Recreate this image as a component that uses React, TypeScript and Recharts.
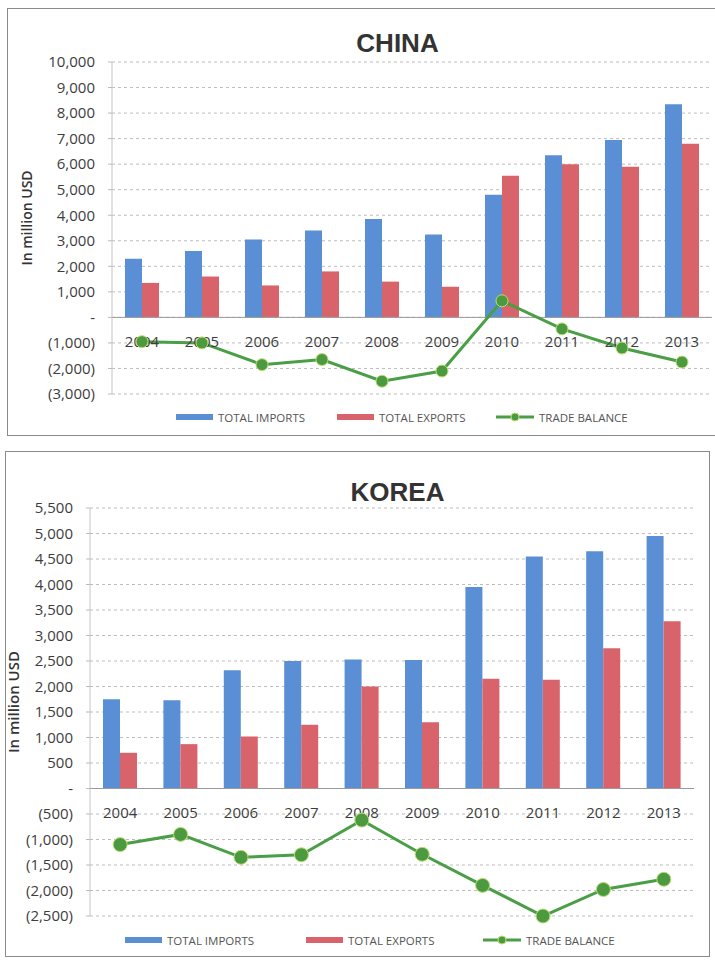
import React from 'react'
import {
  ComposedChart, Bar, Line, XAxis, YAxis, CartesianGrid, ReferenceLine, ReferenceDot
} from 'recharts'

const years = ['2004', '2005', '2006', '2007', '2008', '2009', '2010', '2011', '2012', '2013']

const chinaImports = [2300, 2600, 3050, 3400, 3850, 3250, 4800, 6350, 6950, 8350]
const chinaExports = [1350, 1600, 1250, 1800, 1400, 1200, 5550, 6000, 5900, 6800]
const chinaBalance = [-950, -1000, -1850, -1650, -2500, -2100, 650, -450, -1200, -1750]
const chinaTicks = [-3000, -2000, -1000, 0, 1000, 2000, 3000, 4000, 5000, 6000, 7000, 8000, 9000, 10000]

const koreaImports = [1750, 1730, 2320, 2500, 2530, 2520, 3950, 4550, 4650, 4950]
const koreaExports = [700, 870, 1020, 1250, 2000, 1300, 2150, 2130, 2750, 3280]
const koreaBalance = [-1100, -900, -1350, -1300, -620, -1290, -1900, -2500, -1980, -1780]
const koreaTicks = [-2500, -2000, -1500, -1000, -500, 0, 500, 1000, 1500, 2000, 2500, 3000, 3500, 4000, 4500, 5000, 5500]

const legendLabels = ['TOTAL IMPORTS', 'TOTAL EXPORTS', 'TRADE BALANCE']

const BLUE = '#5b8fd5'
const RED = '#d9636b'
const GREEN = '#4a9e45'

const fmt = (v: number) => {
  if (v === 0) return '-'
  const s = Math.abs(v).toLocaleString('en-US')
  return v < 0 ? `(${s})` : s
}

const tickStyle = { fontSize: 15, fill: '#3d3d3d', fontFamily: '"Open Sans", sans-serif' }

interface ChartProps {
  title: string
  imports: number[]
  exports: number[]
  balance: number[]
  ticks: number[]
  top: number
  height: number
  margin: { top: number; right: number; bottom: number; left: number }
  axisWidth: number
  dotR: number
  titleTop: number
  yLabel: { x: number; y: number; size: number }
  legendTop: number
  legendX: number[]
}

function TradeChart(p: ChartProps) {
  const data = years.map((y, i) => ({
    year: y, imports: p.imports[i], exports: p.exports[i], balance: p.balance[i],
  }))

  return (
    <div style={{ position: 'absolute', left: 0, top: p.top, width: 715, height: p.height }}>
      <div style={{
        position: 'absolute', left: 0, width: 715, top: p.titleTop, textAlign: 'center', paddingLeft: 80,
        boxSizing: 'border-box', fontFamily: '"Liberation Sans", Arial, sans-serif', fontWeight: 'bold',
        fontSize: 26, lineHeight: '26px', color: '#333',
      }}>
        {p.title}
      </div>
      <div style={{
        position: 'absolute', left: p.yLabel.x, top: p.yLabel.y, transform: 'translate(-50%, -50%) rotate(-90deg)',
        whiteSpace: 'nowrap', fontFamily: '"Open Sans", sans-serif', fontWeight: 600,
        fontSize: p.yLabel.size, color: '#333',
      }}>
        In million USD
      </div>

      <ComposedChart width={715} height={p.height} data={data} margin={p.margin} barGap={0}>
        <CartesianGrid vertical={false} stroke="#bdbdbd" strokeDasharray="3 3" />
        <XAxis dataKey="year" hide />
        <YAxis
          width={p.axisWidth}
          domain={[p.ticks[0], p.ticks[p.ticks.length - 1]]}
          ticks={p.ticks}
          interval={0}
          tickFormatter={fmt}
          tick={tickStyle}
          tickSize={4}
          tickMargin={13}
          tickLine={{ stroke: '#bbb' }}
          axisLine={{ stroke: '#c4c4c4' }}
        />
        <ReferenceLine y={0} stroke="#9a9a9a" strokeWidth={1} />
        <Bar dataKey="imports" fill={BLUE} barSize={17} isAnimationActive={false} />
        <Bar dataKey="exports" fill={RED} barSize={17} isAnimationActive={false} />
        {years.map(y => (
          <ReferenceDot
            key={y} x={y} y={0} r={0.5} fill="none" stroke="none"
            label={(lp: any) => (
              <text
                x={lp.viewBox.x + lp.viewBox.width / 2} y={lp.viewBox.y + 30}
                textAnchor="middle" fontSize={15} fill="#3d3d3d" fontFamily='"Open Sans", sans-serif'
              >
                {y}
              </text>
            )}
          />
        ))}
        <Line
          type="linear" dataKey="balance" stroke={GREEN} strokeWidth={3}
          dot={{ r: p.dotR, fill: '#4b9a40', stroke: '#bfdc73', strokeWidth: 1 }}
          activeDot={false} isAnimationActive={false}
        />
      </ComposedChart>

      {legendLabels.map((label, i) => (
        <div key={label} style={{
          position: 'absolute', left: p.legendX[i], top: p.legendTop - 8, height: 16,
          display: 'flex', alignItems: 'center', gap: 5,
          fontFamily: '"Open Sans", sans-serif', fontSize: 11.5, color: '#555',
        }}>
          {i < 2 ? (
            <div style={{ width: 37, height: 6, background: i === 0 ? BLUE : RED }} />
          ) : (
            <svg width={38} height={10}>
              <line x1={0} y1={5} x2={38} y2={5} stroke={GREEN} strokeWidth={3} />
              <circle cx={19} cy={5} r={4} fill="#4b9a40" stroke="#bfdc73" strokeWidth={1} />
            </svg>
          )}
          <span>{label}</span>
        </div>
      ))}
    </div>
  )
}

export default function App() {
  return (
    <div style={{ position: 'absolute', left: 0, top: 0, width: 715, height: 963, background: '#fff', overflow: 'hidden' }}>
      <div style={{ position: 'absolute', left: 7, top: 8, width: 720, height: 426, border: '1px solid #8a8a8a' }} />
      <div style={{ position: 'absolute', left: 5, top: 451, width: 703, height: 504, border: '1px solid #8a8a8a' }} />

      <TradeChart
        title="CHINA"
        imports={chinaImports} exports={chinaExports} balance={chinaBalance} ticks={chinaTicks}
        top={0} height={440}
        margin={{ top: 62, right: 3, bottom: 46, left: 0 }} axisWidth={112}
        dotR={6} titleTop={30}
        yLabel={{ x: 26, y: 218, size: 14 }}
        legendTop={417} legendX={[176, 337, 496]}
      />
      <TradeChart
        title="KOREA"
        imports={koreaImports} exports={koreaExports} balance={koreaBalance} ticks={koreaTicks}
        top={450} height={505}
        margin={{ top: 58, right: 21, bottom: 39, left: 0 }} axisWidth={90}
        dotR={7} titleTop={29}
        yLabel={{ x: 13, y: 252, size: 15 }}
        legendTop={490} legendX={[125, 306, 483]}
      />
    </div>
  )
}
